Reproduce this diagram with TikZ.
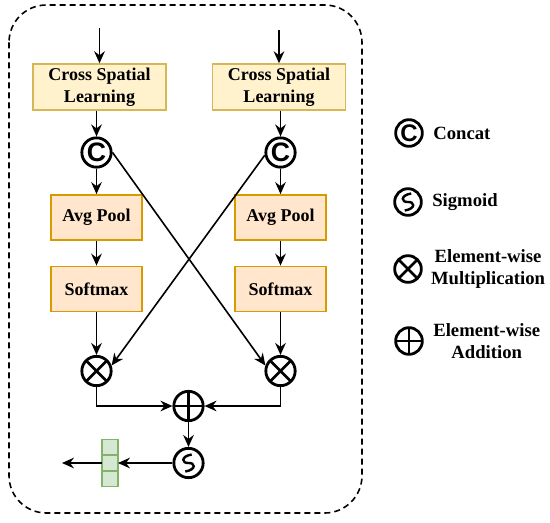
\documentclass[tikz,border=0pt]{standalone}
\usepackage{fontspec}
\setmainfont{Liberation Serif}
\newfontfamily\opfont{Liberation Sans}
\usepackage{tikz}
\usetikzlibrary{arrows.meta,positioning}
\definecolor{cslfill}{HTML}{FFF2CC}
\definecolor{csldraw}{HTML}{D6B656}
\definecolor{poolfill}{HTML}{FFE6CC}
\definecolor{pooldraw}{HTML}{D79B00}
\definecolor{vecfill}{HTML}{D5E8D4}
\definecolor{vecdraw}{HTML}{82B366}
\tikzset{
  blockbox/.style={
    draw=csldraw, fill=cslfill, line width=1.1pt,
    align=center, font=\fontsize{13.5}{16.5}\selectfont\bfseries,
    inner sep=2pt},
  cslbox/.style={blockbox, minimum width=100pt, minimum height=34.5pt},
  poolbox/.style={
    blockbox, fill=poolfill, draw=pooldraw,
    minimum width=68pt, minimum height=34pt},
  vecbox/.style={
    draw=vecdraw, fill=vecfill, line width=1.1pt,
    minimum width=12pt, minimum height=11.75pt, inner sep=0pt, outer sep=0pt},
  opnode/.style={
    circle, draw, line width=2.1pt, fill=white,
    minimum size=22pt, inner sep=0pt},
  legsize/.style={minimum size=20pt},
  catop/.style={opnode, font=\opfont\bfseries\fontsize{20}{20}\selectfont},
  mulop/.style={opnode, path picture={
    \draw[line width=2.1pt]
      (path picture bounding box.north west) -- (path picture bounding box.south east)
      (path picture bounding box.north east) -- (path picture bounding box.south west);}},
  addop/.style={opnode, path picture={
    \draw[line width=2.1pt]
      (path picture bounding box.north) -- (path picture bounding box.south)
      (path picture bounding box.west) -- (path picture bounding box.east);}},
  sigop/.style={opnode, path picture={
    \draw[line width=1.8pt, shift={(path picture bounding box.center)}, x=8pt, y=8pt]
      (0.3,0.8) .. controls (-0.8,0.6) and (-0.6,-0.05) .. (0,0)
      .. controls (0.6,0.05) and (0.8,-0.6) .. (-0.3,-0.8);}},
  flowarrow/.style={-{Stealth[length=9pt, width=8pt, inset=3pt]}, line width=1.2pt},
  legtext/.style={font=\fontsize{14}{16.5}\selectfont\bfseries, align=center, inner sep=0pt},
}

\begin{document}
\begin{tikzpicture}[x=0.75pt, y=-0.75pt]
  \useasboundingbox (0,0) rectangle (550,522);
  % dashed frame
  \draw[line width=1.2pt, dash pattern=on 4.5pt off 3pt, rounded corners=28pt]
    (9,5) rectangle (362,513);

  % left branch
  \node[cslbox]  (csl1)  at (99.5,87)  {Cross Spatial\\Learning};
  \node[catop]   (cat1)  at (96.5,152.5) {C};
  \node[poolbox] (pool1) at (96.5,217.5) {Avg Pool};
  \node[poolbox] (soft1) at (96.5,289) {Softmax};
  \node[mulop]   (mul1)  at (96.5,371) {};

  % right branch
  \node[cslbox]  (csl2)  at (279,87)   {Cross Spatial\\Learning};
  \node[catop]   (cat2)  at (280.5,152.5) {C};
  \node[poolbox] (pool2) at (280.5,217.5) {Avg Pool};
  \node[poolbox] (soft2) at (280.5,289) {Softmax};
  \node[mulop]   (mul2)  at (280.5,371) {};

  % merge
  \node[addop]   (add)   at (188.5,406) {};
  \node[sigop]   (sig)   at (188.5,463) {};
  \node[vecbox]  (vec2)  at (110,463) {};
  \node[vecbox, above=0pt of vec2] (vec1) {};
  \node[vecbox, below=0pt of vec2] (vec3) {};

  \coordinate (in1) at (99.5,28);
  \coordinate (in2) at (279,30);
  \coordinate (out) at (62,463);

  \draw[flowarrow] (in1) -- (csl1);
  \draw[flowarrow] (in2) -- (csl2);
  \draw[flowarrow] (csl1.south -| cat1) -- (cat1);
  \draw[flowarrow] (csl2.south -| cat2) -- (cat2);
  \draw[flowarrow] (cat1) -- (pool1);
  \draw[flowarrow] (cat2) -- (pool2);
  \draw[flowarrow] (pool1) -- (soft1);
  \draw[flowarrow] (pool2) -- (soft2);
  \draw[flowarrow] (soft1) -- (mul1);
  \draw[flowarrow] (soft2) -- (mul2);
  \draw[flowarrow] (cat1.east) -- (mul2.160);
  \draw[flowarrow] (cat2.190) -- (mul1.20);
  \draw[flowarrow] (mul1) |- (add);
  \draw[flowarrow] (mul2) |- (add);
  \draw[flowarrow] (add) -- (sig);
  \draw[flowarrow] (sig) -- (vec2);
  \draw[flowarrow] (vec2) -- (out);

  % legend
  \node[catop, legsize, font=\opfont\bfseries\fontsize{18}{18}\selectfont] (lcat) at (409,133) {C};
  \node[sigop, legsize] (lsig) at (408,202) {};
  \node[mulop, legsize] (lmul) at (408,269) {};
  \node[addop, legsize] (ladd) at (409,341) {};
  \node[legtext, right=7pt of lcat] (tcat) {Concat};
  \node[legtext, right=7pt of lsig] (tsig) {Sigmoid};
  \node[legtext, right=6pt of lmul] (tmul) {Element-wise\\Multiplication};
  \node[legtext, right=7pt of ladd] (tadd) {Element-wise\\Addition};
\end{tikzpicture}
\end{document}
